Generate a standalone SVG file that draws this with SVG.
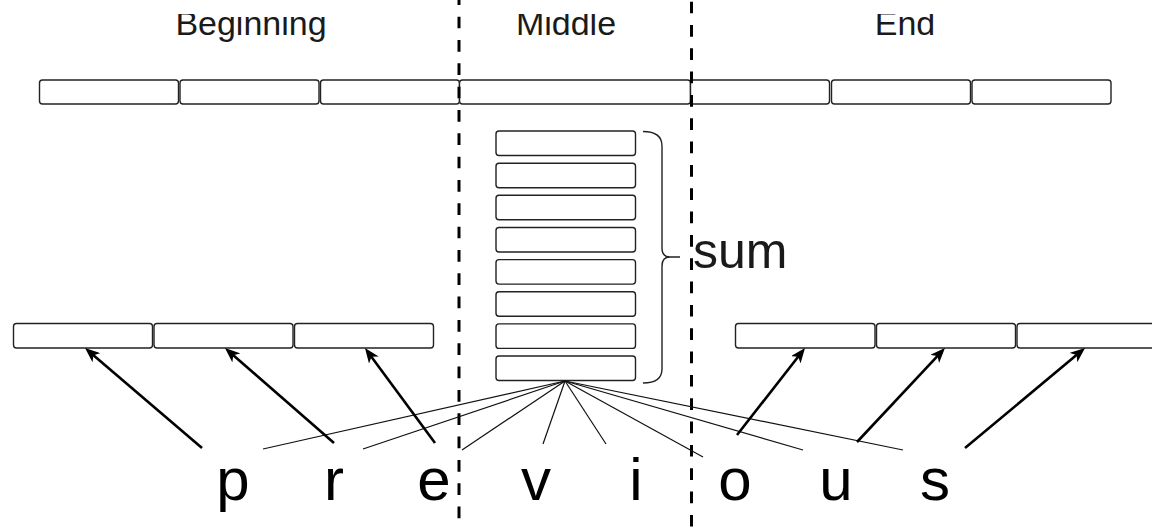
<svg xmlns="http://www.w3.org/2000/svg" width="1152" height="530" viewBox="0 0 1152 530">
  <style>
    .cell { fill: #ffffff; stroke: #222222; stroke-width: 1.4; }
    .label { font-family: "Liberation Sans", Arial, sans-serif; fill: #1a1a1a; }
    .head { font-size: 34px; text-anchor: middle; }
    .letter { font-size: 60px; text-anchor: middle; fill: #000000; }
    .divider { stroke: #000000; stroke-width: 3; stroke-dasharray: 11.7 11.63; fill: none; }
    .fan { stroke: #111111; stroke-width: 1.2; fill: none; }
    .arrow { stroke: #000000; stroke-width: 2.6; fill: none; marker-end: url(#head); }
  </style>
  <defs>
    <marker id="head" viewBox="0 0 15 12" refX="7" refY="6" markerWidth="15" markerHeight="12" markerUnits="userSpaceOnUse" orient="auto">
      <path d="M15,6 L0,0 L4,6 L0,12 Z" fill="#000000"/>
    </marker>
    <clipPath id="topClip">
      <rect x="0" y="14" width="1152" height="40"/>
    </clipPath>
  </defs>

  <rect width="1152" height="530" fill="#ffffff"/>

  <!-- section headings, cut along the top edge -->
  <g id="headings" clip-path="url(#topClip)">
    <text class="label head" x="251" y="35">Beginning</text>
    <text class="label head" x="566" y="35">Middle</text>
    <text class="label head" x="905" y="35">End</text>
  </g>

  <!-- full input row -->
  <g id="input-row">
    <rect class="cell" x="39.5" y="80" width="139" height="24" rx="3"/>
    <rect class="cell" x="180" y="80" width="139" height="24" rx="3"/>
    <rect class="cell" x="320.5" y="80" width="139" height="24" rx="3"/>
    <rect class="cell" x="459.5" y="80" width="231" height="24" rx="3"/>
    <rect class="cell" x="690.5" y="80" width="139" height="24" rx="3"/>
    <rect class="cell" x="831.5" y="80" width="139" height="24" rx="3"/>
    <rect class="cell" x="972" y="80" width="139" height="24" rx="3"/>
  </g>

  <!-- middle stack that gets summed -->
  <g id="middle-stack">
    <rect class="cell" x="496" y="131" width="139.5" height="24.5" rx="3"/>
    <rect class="cell" x="496" y="163.2" width="139.5" height="24.5" rx="3"/>
    <rect class="cell" x="496" y="195.3" width="139.5" height="24.5" rx="3"/>
    <rect class="cell" x="496" y="227.5" width="139.5" height="24.5" rx="3"/>
    <rect class="cell" x="496" y="259.6" width="139.5" height="24.5" rx="3"/>
    <rect class="cell" x="496" y="291.8" width="139.5" height="24.5" rx="3"/>
    <rect class="cell" x="496" y="323.9" width="139.5" height="24.5" rx="3"/>
    <rect class="cell" x="496" y="356" width="139.5" height="24.5" rx="3"/>
  </g>

  <!-- brace and sum label -->
  <g id="sum">
    <path d="M643,131.5 Q662,131.5 662,146 L662,248 Q662,257 670,257 L680,257 M670,257 Q662,257 662,266 L662,369 Q662,383 643,383" fill="none" stroke="#222222" stroke-width="1.4"/>
    <text class="label" x="693" y="268" font-size="50">sum</text>
  </g>

  <!-- output rows -->
  <g id="output-left">
    <rect class="cell" x="13.5" y="323.5" width="139" height="24.5" rx="3"/>
    <rect class="cell" x="154" y="323.5" width="139" height="24.5" rx="3"/>
    <rect class="cell" x="294.5" y="323.5" width="139" height="24.5" rx="3"/>
  </g>
  <g id="output-right">
    <rect class="cell" x="735.5" y="323.5" width="139.5" height="24.5" rx="3"/>
    <rect class="cell" x="876.5" y="323.5" width="139" height="24.5" rx="3"/>
    <rect class="cell" x="1017" y="323.5" width="139" height="24.5" rx="3"/>
  </g>

  <!-- letters -->
  <g id="letters">
    <text class="label letter" x="233" y="500">p</text>
    <text class="label letter" x="334" y="500">r</text>
    <text class="label letter" x="434" y="500">e</text>
    <text class="label letter" x="536" y="500">v</text>
    <text class="label letter" x="636" y="500">i</text>
    <text class="label letter" x="735" y="500">o</text>
    <text class="label letter" x="836" y="500">u</text>
    <text class="label letter" x="935" y="500">s</text>
  </g>

  <!-- connectors -->
  <g id="connectors">
    <line class="divider" x1="459" y1="0" x2="459" y2="530" stroke-dashoffset="6.67"/>
    <line class="divider" x1="691.5" y1="0" x2="691.5" y2="530" stroke-dashoffset="21.7"/>

    <line class="fan" x1="565" y1="381" x2="263" y2="449"/>
    <line class="fan" x1="565" y1="381" x2="363" y2="449"/>
    <line class="fan" x1="565" y1="381" x2="462" y2="450"/>
    <line class="fan" x1="565" y1="381" x2="543" y2="444"/>
    <line class="fan" x1="565" y1="381" x2="606" y2="444"/>
    <line class="fan" x1="565" y1="381" x2="703" y2="457"/>
    <line class="fan" x1="565" y1="381" x2="803" y2="450"/>
    <line class="fan" x1="565" y1="381" x2="903" y2="450"/>

    <line class="arrow" x1="202" y1="448" x2="91.1" y2="353.2"/>
    <line class="arrow" x1="334" y1="443" x2="231" y2="353.3"/>
    <line class="arrow" x1="435" y1="443" x2="369.7" y2="354.4"/>
    <line class="arrow" x1="737" y1="435" x2="800.1" y2="354.3"/>
    <line class="arrow" x1="857" y1="442" x2="939.5" y2="353.8"/>
    <line class="arrow" x1="965" y1="448" x2="1078.9" y2="353.1"/>
  </g>
</svg>
